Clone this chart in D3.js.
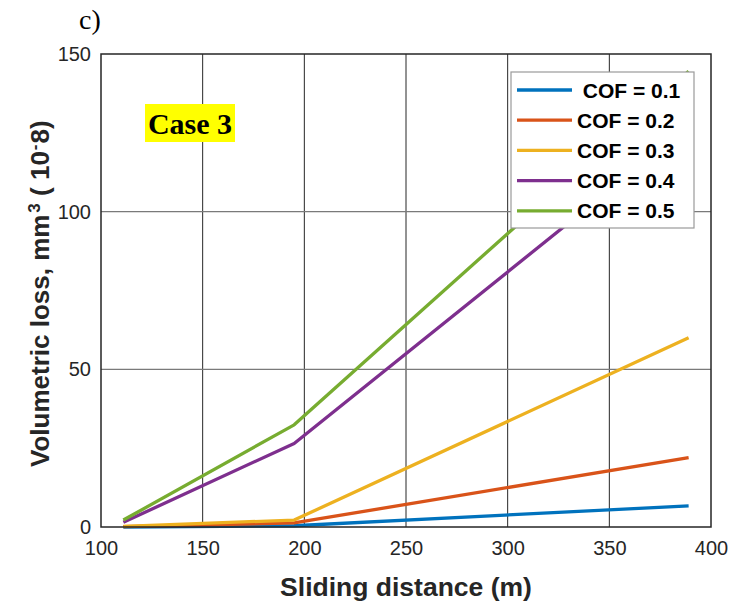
<!DOCTYPE html>
<html>
<head>
<meta charset="utf-8">
<script src="https://cdn.jsdelivr.net/npm/d3@7"></script>
<style>
  html, body { margin: 0; padding: 0; background: #fff; }
  svg text { white-space: pre; }
</style>
</head>
<body>
<svg id="chart" width="731" height="605"></svg>
<script>
// Sliding distance (m) at which volume loss was measured
const distances = [111, 195, 389];

// Volumetric loss (x10^-8 mm^3) for each coefficient of friction
const cof01 = [0.0, 0.4, 6.7];
const cof02 = [0.1, 1.3, 22.0];
const cof03 = [0.2, 2.2, 60.0];
const cof04 = [1.5, 26.5, 127.0];
const cof05 = [2.2, 32.4, 144.5];

const seriesNames = [" COF = 0.1", "COF = 0.2", "COF = 0.3", "COF = 0.4", "COF = 0.5"];
const seriesColors = ["#0072BD", "#D95319", "#EDB120", "#7E2F8E", "#77AC30"];

const xTicks = [100, 150, 200, 250, 300, 350, 400];
const yTicks = [0, 50, 100, 150];

const allSeries = [cof01, cof02, cof03, cof04, cof05];

const svg = d3.select("#chart");
const plotLeft = 101, plotRight = 711, plotTop = 54, plotBottom = 527;

const x = d3.scaleLinear().domain([100, 400]).range([plotLeft, plotRight]);
const y = d3.scaleLinear().domain([0, 150]).range([plotBottom, plotTop]);

// Grid: vertical lines dark, horizontal lines grey
svg.append("g").selectAll("line")
  .data(xTicks.slice(1, -1)).join("line")
  .attr("x1", d => x(d)).attr("x2", d => x(d))
  .attr("y1", plotTop).attr("y2", plotBottom)
  .attr("stroke", "#262626").attr("stroke-width", 1);
svg.append("g").selectAll("line")
  .data(yTicks.slice(1, -1)).join("line")
  .attr("x1", plotLeft).attr("x2", plotRight)
  .attr("y1", d => y(d)).attr("y2", d => y(d))
  .attr("stroke", "#7a7a7a").attr("stroke-width", 1.3);

// Axes with tick labels
const fontSans = "'Liberation Sans', Arial, sans-serif";
const xAxis = svg.append("g").attr("transform", `translate(0,${plotBottom})`)
  .call(d3.axisBottom(x).tickValues(xTicks).tickSize(0).tickPadding(14).tickFormat(d3.format("d")));
xAxis.select(".domain").remove();
xAxis.selectAll("text").attr("font-family", fontSans).attr("font-size", 20).attr("fill", "#262626");

const yAxis = svg.append("g").attr("transform", `translate(${plotLeft},0)`)
  .call(d3.axisLeft(y).tickValues(yTicks).tickSize(0).tickPadding(10).tickFormat(d3.format("d")));
yAxis.select(".domain").remove();
yAxis.selectAll("text").attr("font-family", fontSans).attr("font-size", 20).attr("fill", "#262626");

// Series lines
const line = d3.line().x((d, i) => x(distances[i])).y(d => y(d));
svg.append("g").selectAll("path")
  .data(allSeries).join("path")
  .attr("d", d => line(d))
  .attr("fill", "none")
  .attr("stroke", (d, i) => seriesColors[i])
  .attr("stroke-width", 3.3)
  .attr("stroke-linejoin", "round");

// Plot box
svg.append("rect")
  .attr("x", plotLeft).attr("y", plotTop)
  .attr("width", plotRight - plotLeft).attr("height", plotBottom - plotTop)
  .attr("fill", "none").attr("stroke", "#262626").attr("stroke-width", 1.5);

// Legend
const lg = svg.append("g");
lg.append("rect").attr("x", 511).attr("y", 72).attr("width", 183).attr("height", 156)
  .attr("fill", "#fff").attr("stroke", "#9a9a9a").attr("stroke-width", 1.2);
const rows = lg.selectAll("g.row").data(seriesNames).join("g")
  .attr("class", "row")
  .attr("transform", (d, i) => `translate(0,${90 + i * 30.2})`);
rows.append("line").attr("x1", 517).attr("x2", 572).attr("y1", 0).attr("y2", 0)
  .attr("stroke", (d, i) => seriesColors[i]).attr("stroke-width", 3.3);
rows.append("text").attr("x", 577).attr("y", 0).attr("dy", "0.36em")
  .attr("font-family", fontSans).attr("font-weight", "bold").attr("font-size", 21)
  .attr("fill", "#000").text(d => d);

// Case label
svg.append("rect").attr("x", 145).attr("y", 104).attr("width", 90).attr("height", 38).attr("fill", "#ffff00");
svg.append("text").attr("x", 190).attr("y", 134).attr("text-anchor", "middle")
  .attr("font-family", "'Liberation Serif', 'Times New Roman', serif")
  .attr("font-weight", "bold").attr("font-size", 30).attr("fill", "#000").text("Case 3");

// Panel letter
svg.append("text").attr("x", 79).attr("y", 29)
  .attr("font-family", "'Liberation Serif', 'Times New Roman', serif")
  .attr("font-size", 28).attr("fill", "#000").text("c)");

// X axis title
svg.append("text").attr("x", 406).attr("y", 596).attr("text-anchor", "middle")
  .attr("font-family", fontSans).attr("font-weight", "bold").attr("font-size", 26.5)
  .attr("fill", "#262626").text("Sliding distance (m)");

// Y axis title with superscripts
const yt = svg.append("text")
  .attr("transform", "translate(49,467) rotate(-90)")
  .attr("text-anchor", "start")
  .attr("font-family", fontSans).attr("font-weight", "bold").attr("font-size", 26)
  .attr("fill", "#262626");
yt.append("tspan").text("Volumetric loss, mm");
yt.append("tspan").attr("dx", 2).attr("dy", -9).attr("font-size", 17).text("3");
yt.append("tspan").attr("dy", 9).text(" ( 10");
yt.append("tspan").attr("dx", 1).attr("dy", -9).attr("font-size", 17).text("-");
yt.append("tspan").attr("dx", 1).attr("dy", 9).text("8)");
</script>
</body>
</html>
